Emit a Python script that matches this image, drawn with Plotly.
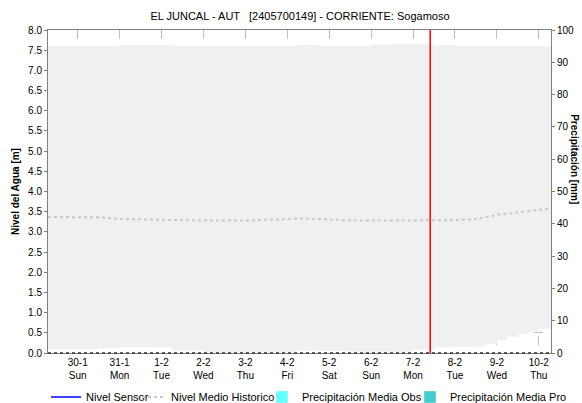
import plotly.graph_objects as go

# ---- data ----
title_text = "EL JUNCAL - AUT   [2405700149] - CORRIENTE: Sogamoso"

band_times = ["2022-01-29 07:00", "2022-01-30 12:00", "2022-01-31 00:00", "2022-01-31 18:00",
              "2022-02-01 06:00", "2022-02-02 00:00", "2022-02-03 00:00", "2022-02-03 18:00",
              "2022-02-04 06:00", "2022-02-04 18:00", "2022-02-05 12:00", "2022-02-06 00:00",
              "2022-02-06 12:00", "2022-02-07 00:00", "2022-02-07 12:00", "2022-02-08 00:00",
              "2022-02-08 12:00", "2022-02-08 18:00", "2022-02-09 00:00", "2022-02-09 06:00",
              "2022-02-09 12:00", "2022-02-09 18:00", "2022-02-10 00:00", "2022-02-10 07:00"]
band_upper = [7.60, 7.60, 7.62, 7.62, 7.61, 7.61, 7.61, 7.61,
              7.63, 7.61, 7.61, 7.64, 7.66, 7.64, 7.62, 7.61,
              7.61, 7.61, 7.60, 7.60, 7.60, 7.60, 7.60, 7.60]
band_lower = [0.10, 0.12, 0.15, 0.14, 0.06, 0.02, 0.02, 0.04,
              0.07, 0.05, 0.03, 0.03, 0.04, 0.08, 0.14, 0.16,
              0.17, 0.22, 0.32, 0.40, 0.47, 0.53, 0.60, 0.69]

hist_times = ["2022-01-29 07:00", "2022-01-30 12:00", "2022-01-31 00:00", "2022-02-01 00:00",
              "2022-02-02 00:00", "2022-02-03 00:00", "2022-02-03 18:00", "2022-02-04 06:00",
              "2022-02-04 18:00", "2022-02-05 12:00", "2022-02-06 12:00", "2022-02-07 12:00",
              "2022-02-08 00:00", "2022-02-08 12:00", "2022-02-09 00:00", "2022-02-09 12:00",
              "2022-02-10 00:00", "2022-02-10 07:00"]
hist_mean = [3.37, 3.36, 3.32, 3.30, 3.28, 3.28, 3.30, 3.33,
             3.32, 3.28, 3.28, 3.28, 3.29, 3.32, 3.42, 3.48,
             3.55, 3.58]

# series with no visible data in the reference
sensor_times = ["2022-02-07 09:50"]
sensor_level = [None]
precip_obs_times = ["2022-02-07 09:50"]
precip_obs = [0]
precip_pro_times = ["2022-02-07 09:50"]
precip_pro = [0]

tick_dates = ["2022-01-30", "2022-01-31", "2022-02-01", "2022-02-02", "2022-02-03", "2022-02-04",
              "2022-02-05", "2022-02-06", "2022-02-07", "2022-02-08", "2022-02-09", "2022-02-10"]
tick_labels = ["30-1<br>Sun", "31-1<br>Mon", "1-2<br>Tue", "2-2<br>Wed", "3-2<br>Thu", "4-2<br>Fri",
               "5-2<br>Sat", "6-2<br>Sun", "7-2<br>Mon", "8-2<br>Tue", "9-2<br>Wed", "10-2<br>Thu"]
x_range = ["2022-01-29 07:00", "2022-02-10 07:00"]
now_marker = "2022-02-07 09:50"

FONT = "Liberation Sans, Arial, sans-serif"
W, H = 582, 403

fig = go.Figure()

# band (lower invisible, upper filled to lower)
fig.add_trace(go.Scatter(x=band_times, y=band_lower, mode="lines", line=dict(width=0, shape="hv"),
                         showlegend=False, hoverinfo="skip"))
fig.add_trace(go.Scatter(x=band_times, y=band_upper, mode="lines", line=dict(width=0, shape="hv"),
                         fill="tonexty", fillcolor="#F0F0F0", showlegend=False, hoverinfo="skip"))

fig.add_trace(go.Scatter(x=sensor_times, y=sensor_level, mode="lines", name="Nivel Sensor",
                         line=dict(color="#0000FF", width=1.5), showlegend=True, legend="legend"))
fig.add_trace(go.Scatter(x=hist_times, y=hist_mean, mode="lines", name="Nivel Medio Historico",
                         line=dict(color="#C8C8C8", width=2, dash="dot"), legend="legend2"))
fig.add_trace(go.Bar(x=precip_obs_times, y=precip_obs, name="Precipitación Media Obs",
                     marker_color="#66FFFF", yaxis="y2", showlegend=True, legend="legend3"))
fig.add_trace(go.Bar(x=precip_pro_times, y=precip_pro, name="Precipitación Media Pro",
                     marker_color="#44CCCC", yaxis="y2", showlegend=True, legend="legend4"))

# current time marker
fig.add_shape(type="line", xref="x", yref="paper", x0=now_marker, x1=now_marker, y0=0, y1=1,
              line=dict(color="#FF0000", width=1.5))
# dotted baseline
fig.add_shape(type="line", xref="paper", yref="paper", x0=0, x1=1, y0=0, y1=0,
              line=dict(color="#333333", width=1.5, dash="dot"))

grid = dict(showgrid=True, gridcolor="#C0C0C0", griddash="dash", gridwidth=1)


def leg(left_px):
    return dict(orientation="h", x=left_px / W, xanchor="left", xref="container",
                y=1 - 397 / H, yref="container", yanchor="middle",
                font=dict(family=FONT, size=11), bgcolor="rgba(0,0,0,0)",
                itemwidth=30)


fig.update_layout(
    width=W, height=H,
    margin=dict(l=48, r=31, t=30, b=50, autoexpand=False),
    paper_bgcolor="white", plot_bgcolor="white",
    font=dict(family=FONT, size=10, color="#000000"),
    title=dict(text=title_text, x=300 / W, xref="container", xanchor="center",
               y=1 - 16 / H, yref="container", yanchor="middle",
               font=dict(family=FONT, size=11, color="#000000")),
    showlegend=True,
    legend=leg(46), legend2=leg(131), legend3=leg(262), legend4=leg(410),
    xaxis=dict(type="date", range=x_range, tickvals=tick_dates, ticktext=tick_labels,
               ticks="", tickfont=dict(size=10), showline=True, linecolor="#808080",
               mirror=True, zeroline=False, automargin=False, **grid),
    yaxis=dict(range=[0, 8], dtick=0.5, tickformat=".1f", ticks="outside", ticklen=3,
               tickcolor="#808080", showline=True, linecolor="#808080", zeroline=False,
               automargin=False,
               title=dict(text="<b>Nivel del Agua [m]</b>", font=dict(size=10), standoff=6),
               tickfont=dict(size=10), **grid),
    yaxis2=dict(range=[0, 100], dtick=10, overlaying="y", side="right", ticks="outside",
                ticklen=3, tickcolor="#808080", showline=True, linecolor="#808080",
                showgrid=False, zeroline=False, automargin=False, tickfont=dict(size=10)),
    bargap=0.2,
)

fig.add_annotation(text="<b>Precipitación [mm]</b>", xref="paper", yref="paper",
                   x=1, xshift=24, xanchor="center", y=0.6, textangle=90, showarrow=False,
                   font=dict(family=FONT, size=10, color="#000000"))

fig.write_html("out.html", config={"displayModeBar": False},
               post_script="document.body.style.margin='0';document.body.style.padding='0';")
